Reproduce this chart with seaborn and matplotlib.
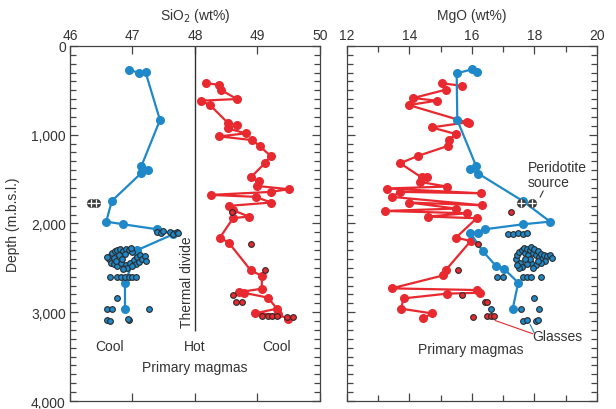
import matplotlib.pyplot as plt
import seaborn as sns
from matplotlib.ticker import MultipleLocator, FuncFormatter

sns.set_style('ticks')
plt.rcParams['font.family'] = ['Liberation Sans', 'DejaVu Sans']
plt.rcParams['font.size'] = 10
plt.rcParams['text.color'] = '#333333'
plt.rcParams['axes.labelcolor'] = '#333333'
plt.rcParams['xtick.color'] = '#333333'
plt.rcParams['ytick.color'] = '#333333'

BLUE = '#1f88c9'
RED = '#e8292f'
EDGE = '#2b2b2b'

# --- SiO2 panel: primary magma lines ---
si_blue = [46.94, 47.11, 47.21, 47.44, 47.14, 47.25, 47.14, 46.67, 46.58, 46.85,
           47.39, 47.65, 47.08, 46.88, 46.88]
si_blue_depth = [267, 305, 297, 835, 1358, 1396, 1433, 1746, 1979, 2009,
                 2065, 2122, 2299, 2667, 2968]

si_red = [48.18, 48.39, 48.41, 48.67, 48.09, 48.24, 48.53, 48.67, 48.53, 48.81,
          48.39, 48.92, 49.04, 49.21, 49.12, 48.89, 49.02, 48.99, 49.50, 49.22,
          48.25, 48.97, 49.22, 48.54, 48.61, 48.86, 48.61, 48.40, 48.54, 48.89,
          49.07, 49.07, 48.71, 48.78, 49.17, 49.31, 48.96, 49.33, 49.49]
si_red_depth = [421, 437, 493, 598, 617, 666, 869, 892, 929, 985,
                1019, 1061, 1132, 1238, 1321, 1482, 1527, 1577, 1614, 1644,
                1678, 1700, 1764, 1802, 1850, 1922, 1940, 2159, 2216, 2525,
                2592, 2735, 2773, 2780, 2836, 2960, 3013, 3025, 3073]

# --- SiO2 panel: glasses ---
si_glass_blue = [47.39, 47.45, 47.49, 47.60, 47.65, 47.71, 47.73,
                 46.62, 46.65, 46.68, 46.72, 46.76, 46.80, 46.85, 46.90, 46.95, 47.00,
                 46.98, 46.88, 46.78, 46.70, 46.66, 46.70, 46.75, 46.82, 46.90, 46.96,
                 47.02, 47.08, 47.12, 47.05, 47.10, 47.15, 47.20, 47.22, 46.92, 46.85,
                 46.60, 46.74, 47.00, 46.83,
                 46.64, 46.76, 46.82, 46.88, 46.95, 47.00, 47.05,
                 46.75, 46.59, 46.68, 47.26, 46.59, 46.64, 46.94, 46.93]
si_glass_blue_depth = [2095, 2110, 2090, 2100, 2115, 2095, 2105,
                       2400, 2360, 2330, 2310, 2300, 2290, 2310, 2290, 2300, 2320,
                       2280, 2340, 2350, 2390, 2440, 2460, 2480, 2450, 2470, 2440,
                       2410, 2380, 2350, 2460, 2430, 2400, 2370, 2420, 2500, 2510,
                       2380, 2420, 2480, 2400,
                       2600, 2600, 2605, 2600, 2600, 2605, 2600,
                       2845, 2968, 2968, 2968, 3090, 3095, 3090, 3080]

si_glass_red = [48.60, 48.89, 49.12, 48.61, 48.66, 48.76,
                49.07, 49.17, 49.24, 49.31, 49.47, 49.57]
si_glass_red_depth = [1870, 2227, 2525, 2807, 2881, 2881,
                      3043, 3043, 3043, 3043, 3050, 3050]

si_peri = [46.33, 46.41]
si_peri_depth = [1772, 1772]

# --- MgO panel: primary magma lines ---
mg_blue = [16.15, 15.99, 15.51, 15.53, 16.13, 15.94, 16.20, 17.62, 18.50, 17.64,
           16.42, 16.20, 15.94, 16.34, 16.77, 17.02, 17.48, 17.30]
mg_blue_depth = [290, 265, 308, 835, 1351, 1388, 1437, 1746, 1979, 2009,
                 2065, 2103, 2103, 2310, 2479, 2509, 2667, 2968]

mg_red = [15.67, 15.03, 15.16, 14.12, 14.87, 13.98, 15.92, 15.83, 14.71, 15.49,
          15.26, 15.24, 14.28, 13.70, 14.39, 14.55, 14.34, 15.19, 13.27, 16.29,
          13.70, 13.43, 16.33, 13.99, 15.49, 13.22, 15.83, 14.58, 16.15, 15.49,
          15.96, 15.16, 15.08, 13.43, 16.15, 16.26, 15.19, 13.81, 13.73, 14.72, 14.42]
mg_red_depth = [448, 421, 493, 587, 617, 666, 869, 861, 918, 993,
                1057, 1125, 1238, 1321, 1482, 1475, 1532, 1584, 1606, 1660,
                1644, 1700, 1795, 1764, 1832, 1859, 1885, 1922, 1941, 2159,
                2198, 2525, 2585, 2731, 2750, 2780, 2791, 2844, 2960, 3013, 3070]

# --- MgO panel: glasses ---
mg_glass_blue = [17.16, 17.32, 17.48, 17.64, 17.75,
                 17.40, 17.45, 17.50, 17.55, 17.60, 17.65, 17.70, 17.75, 17.80, 17.85,
                 17.90, 17.95, 18.00, 18.05, 18.10, 18.15, 18.20, 18.25, 18.30, 18.40,
                 18.50, 18.35, 18.20, 18.05, 17.90, 17.75, 17.60, 17.50, 17.85, 18.10,
                 17.70, 17.95, 18.55, 17.45,
                 16.79, 17.00, 17.62, 17.75, 17.88, 18.21,
                 17.99, 17.57, 18.15, 16.60, 17.62, 17.77, 18.05, 18.12]
mg_glass_blue_depth = [2115, 2120, 2110, 2120, 2105,
                       2400, 2350, 2320, 2450, 2300, 2280, 2330, 2290, 2350, 2300,
                       2270, 2330, 2290, 2360, 2310, 2380, 2340, 2400, 2360, 2370,
                       2350, 2420, 2450, 2470, 2440, 2460, 2490, 2500, 2400, 2420,
                       2400, 2500, 2390, 2470,
                       2604, 2604, 2604, 2600, 2604, 2604,
                       2844, 2968, 2968, 2968, 3100, 3090, 3100, 3090]

mg_glass_red = [17.24, 16.18, 15.56, 15.67, 16.42, 16.49, 16.02, 16.49, 16.60, 16.70]
mg_glass_red_depth = [1870, 2227, 2525, 2807, 2886, 2886, 3051, 3043, 3043, 3040]

mg_peri = [17.58, 17.93]
mg_peri_depth = [1772, 1772]

fig = plt.figure(figsize=(6.16, 4.10), dpi=100)
ax1 = fig.add_axes([0.1136, 0.0195, 0.4058, 0.866])
ax2 = fig.add_axes([0.5633, 0.0195, 0.4058, 0.866])


def draw_line(ax, x, y, color):
    sns.lineplot(x=x, y=y, sort=False, estimator=None, color=color, marker='o',
                 markersize=6.5, markeredgewidth=0, linewidth=1.6, ax=ax, zorder=3)


def draw_glass(ax, x, y, color):
    sns.scatterplot(x=x, y=y, color=color, s=17, edgecolor=EDGE, linewidth=0.8,
                    ax=ax, zorder=4)


def draw_peri(ax, x, y):
    sns.scatterplot(x=x, y=y, color='#3a3a3a', s=42, linewidth=0, ax=ax, zorder=5)
    sns.scatterplot(x=x, y=y, color='white', marker='+', s=30, linewidth=0.9,
                    ax=ax, zorder=6)


draw_line(ax1, si_blue, si_blue_depth, BLUE)
draw_line(ax1, si_red, si_red_depth, RED)
draw_glass(ax1, si_glass_blue, si_glass_blue_depth, BLUE)
draw_glass(ax1, si_glass_red, si_glass_red_depth, RED)
draw_peri(ax1, si_peri, si_peri_depth)

draw_line(ax2, mg_red, mg_red_depth, RED)
draw_line(ax2, mg_blue, mg_blue_depth, BLUE)
draw_glass(ax2, mg_glass_blue, mg_glass_blue_depth, BLUE)
draw_glass(ax2, mg_glass_red, mg_glass_red_depth, RED)
draw_peri(ax2, mg_peri, mg_peri_depth)

# thermal divide
ax1.vlines(48, 0, 3215, color='#333333', linewidth=1, zorder=2)
ax1.text(47.87, 3170, 'Thermal divide', rotation=90, ha='center', va='bottom')
ax1.text(46.64, 3375, 'Cool', ha='center', va='center')
ax1.text(48.0, 3375, 'Hot', ha='center', va='center')
ax1.text(49.31, 3375, 'Cool', ha='center', va='center')
ax1.text(48.0, 3620, 'Primary magmas', ha='center', va='center')

ax2.text(15.97, 3410, 'Primary magmas', ha='center', va='center')
ax2.text(17.93, 3270, 'Glasses', ha='left', va='center')
ax2.plot([16.74, 17.95], [3093, 3243], color=RED, linewidth=0.8)
ax2.plot([17.86, 17.99], [3138, 3231], color=BLUE, linewidth=0.8)
ax2.text(17.79, 1450, 'Peridotite\nsource', ha='left', va='center', linespacing=1.15)
ax2.plot([18.18, 18.28], [1704, 1633], color='#333333', linewidth=0.8)

for ax in (ax1, ax2):
    ax.set_ylim(4000, 0)
    ax.xaxis.set_label_position('top')
    ax.yaxis.set_major_locator(MultipleLocator(1000))
    ax.yaxis.set_minor_locator(MultipleLocator(100))
    ax.tick_params(which='both', direction='in', top=True, bottom=True, left=True,
                   right=True, labeltop=True, labelbottom=False, width=0.9,
                   color='#444444')
    ax.tick_params(which='major', length=6, pad=3)
    ax.tick_params(which='minor', length=4)
    for sp in ax.spines.values():
        sp.set_color('#444444')
        sp.set_linewidth(0.9)
    ax.set_ylabel('')

ax1.set_xlim(46, 50)
ax1.xaxis.set_major_locator(MultipleLocator(1))
ax1.set_xlabel('SiO$_2$ (wt%)', labelpad=6)
ax1.set_ylabel('Depth (m.b.s.l.)', labelpad=8)
ax1.yaxis.set_major_formatter(FuncFormatter(lambda v, p: f'{int(v):,}'))

ax2.set_xlim(12, 20)
ax2.xaxis.set_major_locator(MultipleLocator(2))
ax2.xaxis.set_minor_locator(MultipleLocator(1))
ax2.set_xlabel('MgO (wt%)', labelpad=6)
ax2.tick_params(labelleft=False)

fig.savefig('out.png', dpi=100)
